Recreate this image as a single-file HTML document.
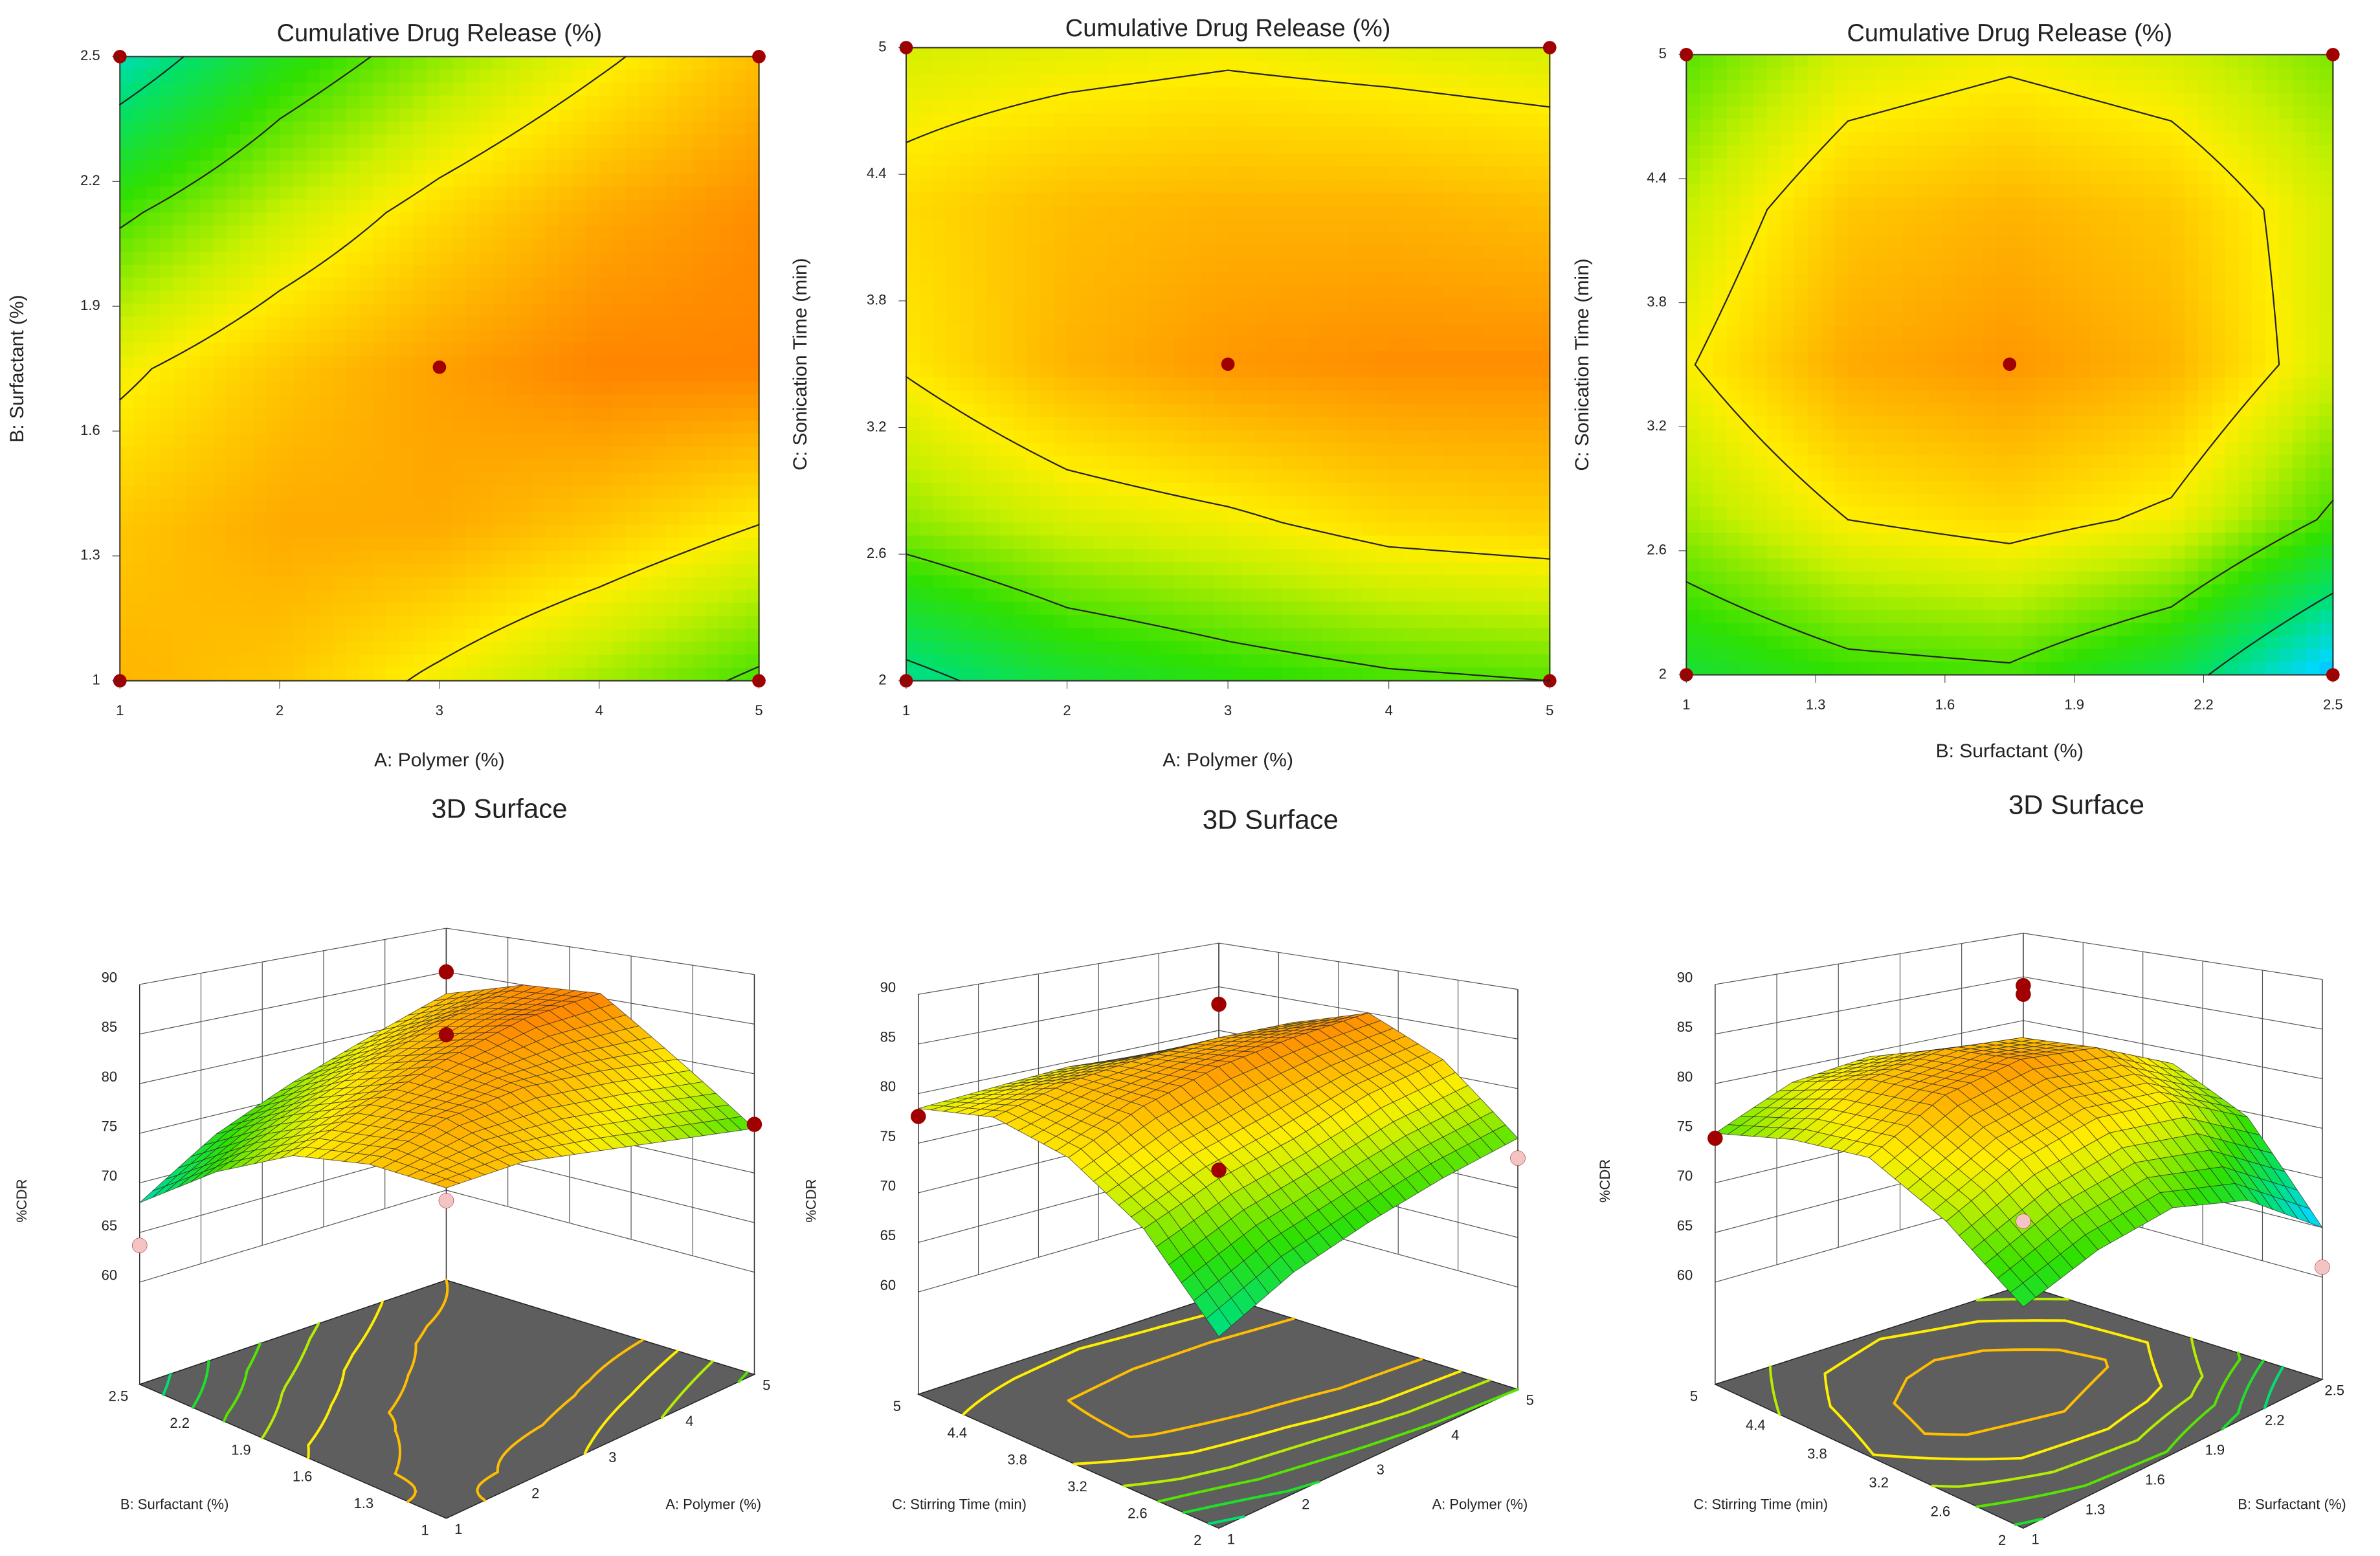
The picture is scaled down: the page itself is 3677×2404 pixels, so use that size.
<!DOCTYPE html>
<html><head><meta charset="utf-8"><style>
html,body{margin:0;padding:0;background:#fff;}
svg{display:block;}
text{font-family:"Liberation Sans",sans-serif;fill:#222;}
</style></head><body>
<svg id="root" width="3677" height="2404" viewBox="0 0 3677 2404" xmlns="http://www.w3.org/2000/svg">
<rect width="3677" height="2404" fill="#fff"/>
<g id="gfx" transform="scale(2.345,1.5332)"></g>
<g id="ovl"></g>
<g id="txt"></g>
</svg>
<script>
// ---------- data ----------
const levels = [65, 70, 75, 80];
// contour 1: rows B = 2.5 → 1 (top→bottom), cols A = 1..5
const gridAB = [
 [68, 73, 76.5, 79.5, 82.5],
 [74.5, 78, 81, 83.5, 85],
 [79.5, 82, 84, 85.5, 85.5],
 [82, 83.5, 83.5, 82, 80],
 [83, 82, 79.5, 77, 74.5]
];
// contour 2: rows C = 5 → 2, cols A = 1..5
const gridAC = [
 [78.5, 79, 79.5, 79, 78.5],
 [81, 82.5, 83, 83, 82.5],
 [80.3, 83, 84.5, 85, 85],
 [76.5, 78.5, 79.5, 81, 81.5],
 [69, 72, 73.5, 74.5, 75]
];
// contour 3: rows C = 5 → 2, cols B = 1..2.5
const gridBC = [
 [75, 78.5, 79.5, 78.5, 76],
 [78, 82, 83, 82, 78.5],
 [79.8, 83.5, 84.5, 83, 78.5],
 [77, 80, 81, 79.5, 74.5],
 [72, 74, 74.5, 71.5, 65]
];
const ticksA = ["1","2","3","4","5"];
const ticksB = ["1","1.3","1.6","1.9","2.2","2.5"];
const ticksBy = ["2.5","2.2","1.9","1.6","1.3","1"];
const ticksC = ["5","4.4","3.8","3.2","2.6","2"];
const ticksCup = ["2","2.6","3.2","3.8","4.4","5"];
const ticksZ = [60, 65, 70, 75, 80, 85, 90];
// design points (a frac, b frac, z) for 3D panels
const pts1 = [[1,1,85,"#a00000"],[1,1,77.8,"#a00000"],[1,1,58.8,"#f4c4c4"],[0,1,63.7,"#f4c4c4"],[1,0,74.9,"#a00000"]];
const pts2 = [[1,1,83,"#a00000"],[1,1,64,"#a00000"],[0,1,77.7,"#a00000"],[1,0,73,"#f4c4c4"]];
const pts3 = [[1,1,84,"#a00000"],[1,1,83,"#a00000"],[1,1,57,"#f4c4c4"],[0,1,74.5,"#a00000"],[1,0,61,"#f4c4c4"]];

// ---------- helpers ----------
const NS="http://www.w3.org/2000/svg", SX=3677/1568, SY=2404/1568;
const G=document.getElementById('gfx'), T=document.getElementById('txt'), O=document.getElementById('ovl');
function el(tag,attrs,parent){const e=document.createElementNS(NS,tag);for(const k in attrs)e.setAttribute(k,attrs[k]);(parent||G).appendChild(e);return e;}
function txt(x,y,s,size,anchor,rot,name){
  const e=el('text',{x:x*SX,y:y*SY,'font-size':size,'text-anchor':anchor||'middle','dominant-baseline':'middle'},T);
  if(rot)e.setAttribute('transform',`rotate(${rot} ${x*SX} ${y*SY})`);
  e.textContent=s;
  
  
  return e;}
const stops=[[63,[26,92,255]],[66,[0,216,255]],[70,[0,224,112]],[74,[48,224,0]],[78,[200,240,0]],[80,[255,238,0]],[83,[255,180,0]],[86,[255,122,0]],[89,[255,80,0]]];
function col(v){
  if(v<=stops[0][0])return `rgb(${stops[0][1]})`;
  for(let i=1;i<stops.length;i++){if(v<=stops[i][0]){const t=(v-stops[i-1][0])/(stops[i][0]-stops[i-1][0]);const a=stops[i-1][1],b=stops[i][1];return `rgb(${a.map((c,k)=>Math.round(c+(b[k]-c)*t)).join(',')})`;}}
  return `rgb(${stops[stops.length-1][1]})`;}
function bil(g,u,v){
  const n=g.length-1; let x=u*n,y=v*n; let j=Math.min(Math.floor(x),n-1),i=Math.min(Math.floor(y),n-1);
  const fx=x-j,fy=y-i;
  return g[i][j]*(1-fx)*(1-fy)+g[i][j+1]*fx*(1-fy)+g[i+1][j]*(1-fx)*fy+g[i+1][j+1]*fx*fy;}
function contourSegs(g,N,lev){
  const segs=[];const val=(i,j)=>bil(g,j/N,i/N);
  for(let i=0;i<N;i++)for(let j=0;j<N;j++){
    const c=[[i,j],[i,j+1],[i+1,j+1],[i+1,j]];const vs=c.map(p=>val(p[0],p[1])+1e-7);const P=[];
    for(let k=0;k<4;k++){const a=vs[k],b=vs[(k+1)%4];if((a-lev)*(b-lev)<0){const t=(lev-a)/(b-a);const p=c[k],q=c[(k+1)%4];P.push([(p[1]+(q[1]-p[1])*t)/N,(p[0]+(q[0]-p[0])*t)/N]);}}
    if(P.length>=2)segs.push([P[0],P[1]]);if(P.length===4)segs.push([P[2],P[3]]);}
  return segs;}
function ovlPath(d,stroke,w,name){
  const p=el('path',{d,stroke,'stroke-width':w,fill:'none','stroke-linecap':'round','stroke-linejoin':'round'},O);
  
  }

// ---------- contour panels ----------
function contourPanel(o){
  const g=el('g',{}),w=o.x1-o.x0,h=o.y1-o.y0,N=48;
  
  
  for(let i=0;i<N;i++)for(let j=0;j<N;j++){
    const r=el('rect',{x:o.x0+j*w/N,y:o.y0+i*h/N,width:w/N+0.6,height:h/N+0.6,fill:col(bil(o.grid,(j+0.5)/N,(i+0.5)/N))},g);
    
    
  }
  levels.forEach(L=>{let d='';contourSegs(o.grid,80,L).forEach(s=>{
      d+=`M${((o.x0+s[0][0]*w)*SX).toFixed(2)},${((o.y0+s[0][1]*h)*SY).toFixed(2)}L${((o.x0+s[1][0]*w)*SX).toFixed(2)},${((o.y0+s[1][1]*h)*SY).toFixed(2)}`;});
    if(d)ovlPath(d,'#222',2.2,'contour-line-'+L);});
  const fr=el('rect',{x:o.x0,y:o.y0,width:w,height:h,fill:'none',stroke:'#333','stroke-width':2,'vector-effect':'non-scaling-stroke'},g);
  
  
  [[o.x0,o.y0],[o.x1,o.y0],[o.x0,o.y1],[o.x1,o.y1],[(o.x0+o.x1)/2,o.cy]].forEach(p=>{
    const c=el('ellipse',{cx:p[0],cy:p[1],rx:4.5/SX*2.3,ry:4.5/SY*2.3,fill:'#a00000'},g);
    
    });
  txt((o.x0+o.x1)/2,o.ty,'Cumulative Drug Release (%)',38,'middle',0,'chart-title');
  o.yt.forEach((s,k)=>{const y=o.y0+k*h/(o.yt.length-1);txt(o.x0-13,y,s,22,'end',0,'y-tick-label');
    const t=el('line',{x1:o.x0-5,y1:y,x2:o.x0,y2:y,stroke:'#333','vector-effect':'non-scaling-stroke'},g);
    
    });
  o.xt.forEach((s,k)=>{const x=o.x0+k*w/(o.xt.length-1);txt(x,o.y1+31,s,22,'middle',0,'x-tick-label');
    const t=el('line',{x1:x,y1:o.y1,x2:x,y2:o.y1+8,stroke:'#333','vector-effect':'non-scaling-stroke'},g);
    
    });
  txt((o.x0+o.x1)/2,o.xly,o.xl,30,'middle',0,'x-axis-title');
  txt(o.ylx,(o.y0+o.y1)/2,o.yl,30,'middle',-90,'y-axis-title');
}
contourPanel({name:'contour-polymer-surfactant',x0:79,x1:500,y0:57,y1:686,cy:370,grid:gridAB,ty:35,yt:ticksBy,xt:ticksA,xl:'A: Polymer  (%)',xly:767,yl:'B: Surfactant  (%)',ylx:12});
contourPanel({name:'contour-polymer-sonication',x0:597,x1:1021,y0:48,y1:686,cy:367,grid:gridAC,ty:30,yt:ticksC,xt:ticksA,xl:'A: Polymer  (%)',xly:767,yl:'C: Sonication Time (min)',ylx:528});
contourPanel({name:'contour-surfactant-sonication',x0:1111,x1:1537,y0:55,y1:680,cy:367,grid:gridBC,ty:35,yt:ticksC,xt:ticksB,xl:'B: Surfactant  (%)',xly:758,yl:'C: Sonication Time (min)',ylx:1043});

// ---------- 3D panels ----------
function surf3d(o){
  const g=el('g',{});
  
  
  const k=10,gap=103,ratio=0.88;
  const floor=(a,b)=>[o.F[0]*(1-a)*(1-b)+o.R[0]*a*(1-b)+o.L[0]*(1-a)*b+o.B[0]*a*b, o.F[1]*(1-a)*(1-b)+o.R[1]*a*(1-b)+o.L[1]*(1-a)*b+o.B[1]*a*b];
  const S=(a,b,z)=>{const f=floor(a,b),m=1-(1-ratio)*a*b;return [f[0],f[1]-m*(gap+(z-60)*k)];};
  const ln=(p,q,name,w,c)=>{const e=el('line',{x1:p[0],y1:p[1],x2:q[0],y2:q[1],stroke:c||'#555','stroke-width':w||1.2,'vector-effect':'non-scaling-stroke'},g);
    
    };
  ticksZ.forEach(z=>{ln(S(0,1,z),S(1,1,z),'wall-gridline');ln(S(1,1,z),S(1,0,z),'wall-gridline');});
  for(let t=0;t<=1.0001;t+=0.2){ln(S(t,1,60),S(t,1,90),'wall-gridline');ln(S(1,t,60),S(1,t,90),'wall-gridline');}
  ln(floor(0,1),S(0,1,90),'z-axis-line',1.5,'#333');ln(floor(1,1),S(1,1,90),'back-edge',1.5,'#333');ln(floor(1,0),S(1,0,90),'right-edge',1.5,'#333');
  ticksZ.forEach(z=>{const p=S(0,1,z);txt(p[0]-20,p[1]-6,String(z),22,'middle',0,'z-tick-label');});
  txt(o.zlx,o.zly,'%CDR',22,'middle',-90,'z-axis-title');
  const fl=el('path',{d:`M${o.F}L${o.R}L${o.B}L${o.L}Z`,fill:'#5e5e5e',stroke:'#222','stroke-width':1.5,'vector-effect':'non-scaling-stroke'},g);
  
  
  // floor contours drawn in overlay (unscaled) after floor but before surface: use a sub-group in G via foreign ordering
  const fc=el('g',{transform:`scale(${1/SX},${1/SY})`},g);
  
  
  levels.concat([72.5,77.5,82.5]).forEach(L=>{let d='';contourSegs(o.grid,60,L).forEach(s=>{const p=floor(s[0][0],1-s[0][1]),q=floor(s[1][0],1-s[1][1]);
      d+=`M${(p[0]*SX).toFixed(2)},${(p[1]*SY).toFixed(2)}L${(q[0]*SX).toFixed(2)},${(q[1]*SY).toFixed(2)}`;});
    if(d){const e=el('path',{d,stroke:col(L),'stroke-width':4,fill:'none','stroke-linecap':'round'},fc);
    
    }});
  o.bt.forEach((s,i)=>{const p=floor(0,i/(o.bt.length-1));txt(p[0]-14,p[1]+13,s,22,'middle',0,'floor-tick-label');});
  o.at.forEach((s,i)=>{const p=floor(i/(o.at.length-1),0);txt(p[0]+8,p[1]+12,s,22,'middle',0,'floor-tick-label');});
  txt(o.blx,1517,o.bl,22,'middle',0,'floor-axis-title');
  txt(o.alx,1517,o.al,22,'middle',0,'floor-axis-title');
  const M=24,quads=[];
  for(let i=0;i<M;i++)for(let j=0;j<M;j++)quads.push([i,j,(j+0.5)/M+(1-(i+0.5)/M)]);
  quads.sort((p,q)=>q[2]-p[2]);
  quads.forEach(([i,j])=>{
    const c=[[i,j],[i,j+1],[i+1,j+1],[i+1,j]].map(([r,cc])=>{const u=cc/M,v=r/M;return S(u,1-v,bil(o.grid,u,v));});
    const e=el('path',{d:`M${c[0]}L${c[1]}L${c[2]}L${c[3]}Z`,fill:col(bil(o.grid,(j+0.5)/M,(i+0.5)/M)),stroke:'#2a2a2a','stroke-width':0.9,'stroke-opacity':0.75,'vector-effect':'non-scaling-stroke'},g);
    
    });
  o.pts.forEach(p=>{const s=S(p[0],p[1],p[2]);
    const e=el('ellipse',{cx:s[0],cy:s[1],rx:5/SX*2.3,ry:5/SY*2.3,fill:p[3],stroke:'#800','stroke-width':0.5,'vector-effect':'non-scaling-stroke'},g);
    
    });
  txt(o.tx,o.ty,'3D Surface',42,'middle',0,'surface-title');
}
surf3d({name:'surface-polymer-surfactant',F:[294,1530],R:[497,1385],L:[92,1395],B:[294,1290],grid:gridAB,pts:pts1,zlx:15,zly:1210,
  bt:ticksB,at:ticksA,bl:'B: Surfactant  (%)',blx:115,al:'A: Polymer  (%)',alx:470,tx:329,ty:817});
surf3d({name:'surface-polymer-stirring',F:[803,1540],R:[1000,1400],L:[605,1405],B:[803,1305],grid:gridAC,pts:pts2,zlx:535,zly:1210,
  bt:ticksCup,at:ticksA,bl:'C: Stirring Time (min)',blx:632,al:'A: Polymer  (%)',alx:975,tx:837,ty:828});
surf3d({name:'surface-surfactant-stirring',F:[1333,1540],R:[1530,1390],L:[1130,1395],B:[1333,1295],grid:gridBC,pts:pts3,zlx:1058,zly:1190,
  bt:ticksCup,at:ticksB,bl:'C: Stirring Time (min)',blx:1160,al:'B: Surfactant  (%)',alx:1510,tx:1368,ty:813});
</script>
</body></html>
